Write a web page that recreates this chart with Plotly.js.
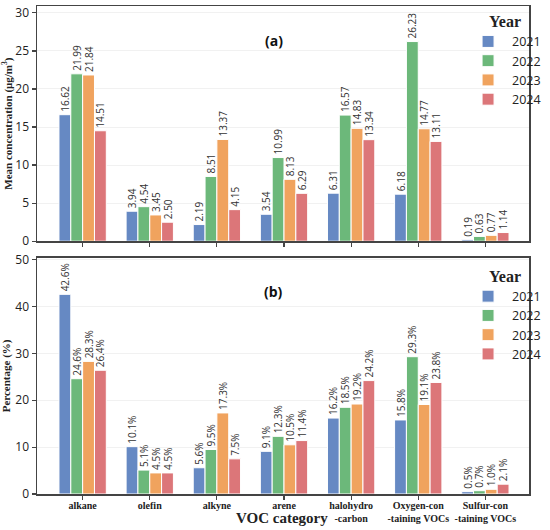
<!DOCTYPE html>
<html><head><meta charset="utf-8">
<script src="https://cdn.plot.ly/plotly-3.0.1.min.js"></script>
<style>html,body{margin:0;padding:0;background:#fff}#chart{width:550px;height:530px}</style>
</head><body><div id="chart"></div>
<script>
var categories = ['alkane','olefin','alkyne','arene','halohydro-carbon','Oxygen-containing VOCs','Sulfur-containing VOCs'];
var tickLabels = ['alkane','olefin','alkyne','arene','halohydro<br>-carbon','Oxygen-con<br>-taining VOCs','Sulfur-con<br>-taining VOCs'];
var years = ['2021','2022','2023','2024'];
var conc2021 = [16.62, 3.94, 2.19, 3.54, 6.31, 6.18, 0.19];
var conc2022 = [21.99, 4.54, 8.51, 10.99, 16.57, 26.23, 0.63];
var conc2023 = [21.84, 3.45, 13.37, 8.13, 14.83, 14.77, 0.77];
var conc2024 = [14.51, 2.50, 4.15, 6.29, 13.34, 13.11, 1.14];
var pct2021 = [42.6, 10.1, 5.6, 9.1, 16.2, 15.8, 0.5];
var pct2022 = [24.6, 5.1, 9.5, 12.3, 18.5, 29.3, 0.7];
var pct2023 = [28.3, 4.5, 17.3, 10.5, 19.2, 19.1, 1.0];
var pct2024 = [26.4, 4.5, 7.5, 11.4, 24.2, 23.8, 2.1];
var concSeries = [conc2021, conc2022, conc2023, conc2024];
var pctSeries = [pct2021, pct2022, pct2023, pct2024];
var colors = ['#6689c3','#6cb87a','#f0a35e','#dc7679'];

var traces = [];
years.forEach(function(yr, i){
  traces.push({type:'bar', x:categories, y:concSeries[i], name:yr, xaxis:'x', yaxis:'y',
    marker:{color:colors[i], line:{color:'#ffffff', width:1}},
    texttemplate:'%{y:.2f}', textposition:'outside', textangle:-90, constraintext:'none', cliponaxis:false,
    textfont:{family:'Open Sans, sans-serif', size:10, color:'#333'}, legend:'legend', hoverinfo:'none'});
});
years.forEach(function(yr, i){
  traces.push({type:'bar', x:categories, y:pctSeries[i], name:yr, xaxis:'x2', yaxis:'y2',
    marker:{color:colors[i], line:{color:'#ffffff', width:1}},
    texttemplate:'%{y:.1f}%', textposition:'outside', textangle:-90, constraintext:'none', cliponaxis:false,
    textfont:{family:'Open Sans, sans-serif', size:10, color:'#333'}, legend:'legend2', hoverinfo:'none'});
});

var axisLine = {showline:true, mirror:true, linecolor:'#444', linewidth:1.5, ticks:'outside', ticklen:4, tickcolor:'#444', tickwidth:1.2, automargin:false};
var serifBold = 'Liberation Serif, Times New Roman, serif';
var legendCommon = {xref:'paper', yref:'paper', xanchor:'left', yanchor:'top', bgcolor:'rgba(0,0,0,0)',
  font:{family:'Open Sans, sans-serif', size:12.5, color:'#222'}, tracegroupgap:0, itemwidth:38,
  title:{text:'<b>Year</b>', side:'top center', font:{family:serifBold, size:16, color:'#222'}}};

var layout = {
  width:550, height:530, margin:{l:37, r:4, t:6, b:36},
  paper_bgcolor:'#fff', plot_bgcolor:'#fff',
  barmode:'group', bargap:0.295, bargroupgap:0, showlegend:true,
  xaxis: Object.assign({}, axisLine, {domain:[0,1], anchor:'y', type:'category', range:[-0.68, 6.65], showticklabels:false, showgrid:false}),
  yaxis: Object.assign({}, axisLine, {domain:[0.518,1], anchor:'x', range:[0,30.9], tickvals:[0,5,10,15,20,25,30],
    showgrid:true, gridcolor:'#f1f1f1', gridwidth:1, zeroline:false,
    tickfont:{family:'Open Sans, sans-serif', size:12, color:'#222'},
    title:{text:'<b>Mean concentration (μg/m<sup>3</sup>)</b>', standoff:4, font:{family:serifBold, size:11, color:'#222'}}}),
  xaxis2: Object.assign({}, axisLine, {domain:[0,1], anchor:'y2', type:'category', range:[-0.68, 6.65], showgrid:false,
    tickvals:categories, ticktext:tickLabels.map(function(t){return '<b>'+t+'</b>';}), tickangle:0, ticklabelstandoff:-3,
    tickfont:{family:serifBold, size:10, color:'#222'}}),
  yaxis2: Object.assign({}, axisLine, {domain:[0,0.484], anchor:'x2', range:[0,50.4], tickvals:[0,10,20,30,40,50],
    showgrid:true, gridcolor:'#f1f1f1', gridwidth:1, zeroline:false,
    tickfont:{family:'Open Sans, sans-serif', size:12, color:'#222'},
    title:{text:'<b>Percentage (%)</b>', standoff:4, font:{family:serifBold, size:11, color:'#222'}}}),
  legend: Object.assign({}, legendCommon, {x:0.868, y:1.0}),
  legend2: Object.assign({}, legendCommon, {x:0.868, y:0.478}),
  annotations:[
    {text:'<b>(a)</b>', xref:'paper', yref:'paper', x:0.481, y:0.93, xanchor:'center', yanchor:'middle', showarrow:false, font:{family:'Open Sans, sans-serif', size:14, color:'#111'}},
    {text:'<b>(b)</b>', xref:'paper', yref:'paper', x:0.481, y:0.415, xanchor:'center', yanchor:'middle', showarrow:false, font:{family:'Open Sans, sans-serif', size:14, color:'#111'}},
    {text:'<b>VOC category</b>', xref:'paper', yref:'paper', x:0.498, y:-0.05, xanchor:'center', yanchor:'middle', showarrow:false, font:{family:serifBold, size:15, color:'#222'}}
  ]
};
Plotly.newPlot('chart', traces, layout, {displayModeBar:false, staticPlot:true});
</script></body></html>
